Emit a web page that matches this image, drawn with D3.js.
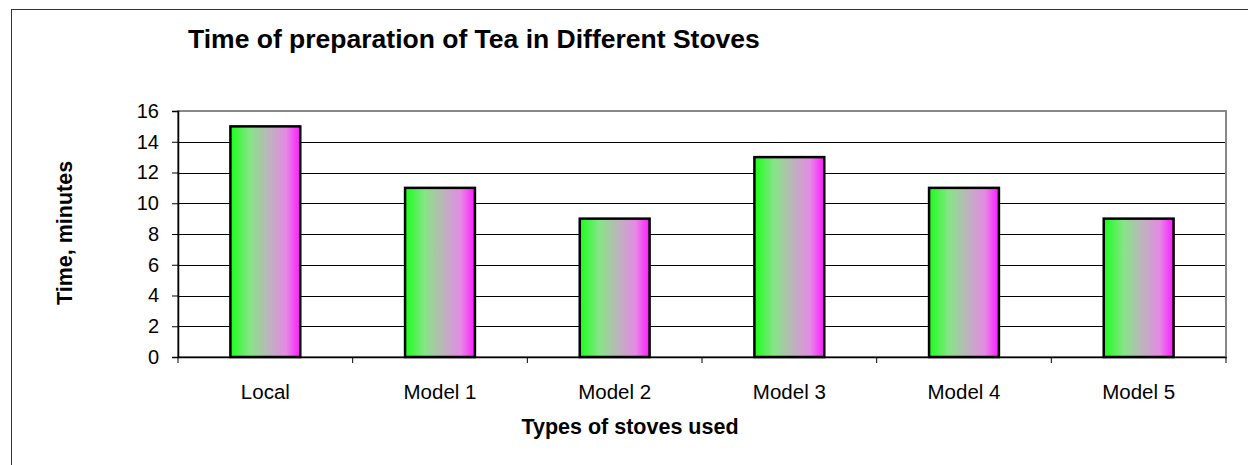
<!DOCTYPE html>
<html><head><meta charset="utf-8">
<script src="https://cdn.jsdelivr.net/npm/d3@7"></script>
<style>
html,body{margin:0;padding:0;background:#fff;}
svg{display:block;font-family:Arial,"Liberation Sans",sans-serif;}
</style></head>
<body><svg id="c" width="1248" height="465"></svg>
<script>
const categories = ["Local","Model 1","Model 2","Model 3","Model 4","Model 5"];
const values = [15, 11, 9, 13, 11, 9];
const yTicks = [0,2,4,6,8,10,12,14,16];
const titleText = "Time of preparation of Tea in Different Stoves";
const xTitle = "Types of stoves used";
const yTitle = "Time, minutes";

const svg = d3.select("#c");
const L = 178, R = 1226, T = 111, B = 357;

// outer chart border (only left/top visible)
svg.append("rect").attr("x",11.5).attr("y",9.5).attr("width",1400).attr("height",600)
  .attr("fill","none").attr("stroke","#333").attr("stroke-width",1);

const defs = svg.append("defs");
const g = defs.append("linearGradient").attr("id","bg").attr("x1","0").attr("x2","1").attr("y1","0").attr("y2","0");
[[0,"#1aff1a"],[0.28,"#86e586"],[0.55,"#bcb4bc"],[0.8,"#e48ae4"],[1,"#ff1aff"]]
  .forEach(([o,c])=>g.append("stop").attr("offset",o).attr("stop-color",c));

const x = d3.scaleBand().domain(categories).range([L,R]).paddingInner(0.6).paddingOuter(0.3);
const xb = d3.scaleBand().domain(categories).range([L,R]);
const y = d3.scaleLinear().domain([0,16]).range([B,T]);

// gridlines
svg.append("g").selectAll("line").data(yTicks.filter(d=>d>0 && d<16)).join("line")
  .attr("x1",L).attr("x2",R).attr("y1",d=>Math.round(y(d))+0.5).attr("y2",d=>Math.round(y(d))+0.5)
  .attr("stroke","#000").attr("stroke-width",1);

// plot border
svg.append("rect").attr("x",L).attr("y",T).attr("width",R-L).attr("height",B-T)
  .attr("fill","none").attr("stroke","#888").attr("stroke-width",2);

// bars
svg.append("g").selectAll("rect").data(values).join("rect")
  .attr("x",(d,i)=>x(categories[i])).attr("width",x.bandwidth())
  .attr("y",d=>y(d)).attr("height",d=>y(0)-y(d))
  .attr("fill","url(#bg)").attr("stroke","#000").attr("stroke-width",2.5);

// y axis
const ya = svg.append("g").attr("transform",`translate(${L},0)`)
  .call(d3.axisLeft(y).tickValues(yTicks).tickSize(6).tickPadding(13).tickFormat(d3.format("d")));
ya.select(".domain").attr("stroke","#000").attr("stroke-width",1.5);
ya.selectAll(".tick line").attr("stroke","#000");
ya.selectAll("text").attr("font-size","20px").attr("fill","#000").attr("font-family","Arial, 'Liberation Sans', sans-serif");

// x axis
const xa = svg.append("g").attr("transform",`translate(0,${B})`)
  .call(d3.axisBottom(xb).tickSize(0).tickPadding(27));
xa.select(".domain").attr("stroke","#000").attr("stroke-width",1.5);
xa.selectAll("text").attr("font-size","20.5px").attr("fill","#000").attr("font-family","Arial, 'Liberation Sans', sans-serif");
// x tick marks at category boundaries
const bounds = categories.map(c=>xb(c)).concat([R]);
svg.append("g").selectAll("line").data(bounds).join("line")
  .attr("x1",d=>d).attr("x2",d=>d).attr("y1",B).attr("y2",B+6)
  .attr("stroke","#000").attr("stroke-width",1);

// titles
svg.append("text").attr("x",188).attr("y",48).attr("font-size","26.5px").attr("font-weight","bold").text(titleText);
svg.append("text").attr("x",630).attr("y",434).attr("text-anchor","middle").attr("font-size","21.5px").attr("font-weight","bold").text(xTitle);
svg.append("text").attr("transform","translate(72,233) rotate(-90)").attr("text-anchor","middle").attr("font-size","21.5px").attr("font-weight","bold").text(yTitle);
</script></body></html>
